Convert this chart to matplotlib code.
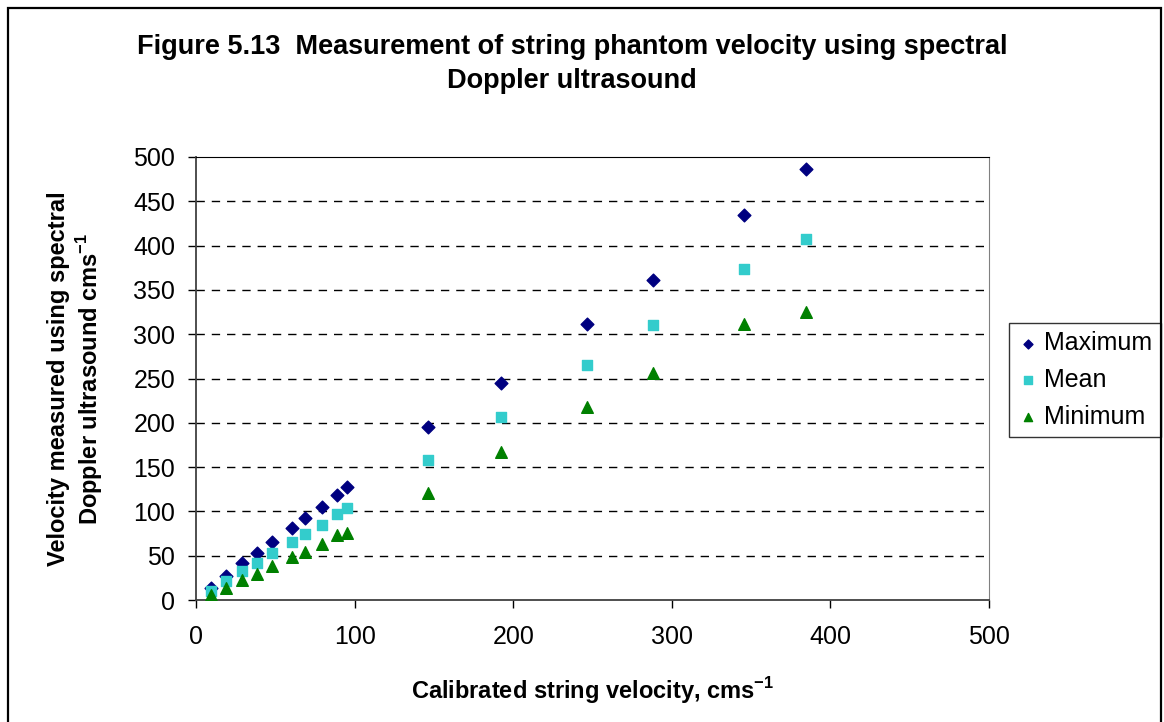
import matplotlib
matplotlib.use('Agg')
import matplotlib.pyplot as plt
from matplotlib.patches import Rectangle

plt.rcParams['font.family'] = ['Liberation Sans', 'DejaVu Sans']
plt.rcParams['mathtext.fontset'] = 'custom'
plt.rcParams['mathtext.rm'] = 'Liberation Sans'
plt.rcParams['mathtext.bf'] = 'Liberation Sans:bold'

# calibrated string velocity (cm/s)
velocity = [9.3, 18.7, 28.8, 38.3, 47.7, 60.3, 68.7, 79.3, 88.8, 95.1,
            146.3, 192.1, 246.7, 288.3, 345.7, 384.4]
maximum = [14, 27, 42, 53, 66, 81, 92, 105, 118, 128, 195, 245, 311, 361, 435, 487]
mean = [10, 22, 33, 42, 53, 65, 74, 85, 97, 104, 158, 207, 265, 310, 374, 407]
minimum = [6, 13, 23, 29, 38, 48, 54, 63, 73, 76, 121, 167, 218, 256, 312, 325]

x_ticks = [0, 100, 200, 300, 400, 500]
y_ticks = [0, 50, 100, 150, 200, 250, 300, 350, 400, 450, 500]

W, H = 1164, 722
fig = plt.figure(figsize=(W / 100, H / 100), dpi=100)
fig.patches.append(Rectangle((8 / W, -0.1), (1161 - 8) / W, 1.1 - 8 / H,
                             transform=fig.transFigure, fill=False,
                             edgecolor='black', linewidth=1.6))

ax = fig.add_axes([196 / W, 1 - 600 / H, (989 - 196) / W, (600 - 157) / H])
ax.scatter(velocity, maximum, marker='D', s=42, color='#000080', label='Maximum', zorder=3)
ax.scatter(velocity, mean, marker='s', s=55, color='#33CCCC', label='Mean', zorder=3)
ax.scatter(velocity, minimum, marker='^', s=70, color='#008000', label='Minimum', zorder=3)

ax.set_xlim(0, 500)
ax.set_ylim(0, 500)
ax.set_xticks(x_ticks)
ax.set_yticks(y_ticks)
ax.tick_params(labelsize=18, length=6, direction='out', width=1)
ax.tick_params(axis='x', pad=12)
ax.tick_params(axis='y', pad=9)
for y in y_ticks[1:-1]:
    ax.axhline(y, color='black', linestyle=(0, (6, 5)), linewidth=1, zorder=1)
for s in ['left', 'bottom']:
    ax.spines[s].set_color('#404040')
    ax.spines[s].set_linewidth(1.3)
ax.spines['top'].set_color('black')
ax.spines['right'].set_color('#808080')

ax.set_xlabel(r'Calibrated string velocity, cms$^{\mathbf{-1}}$',
              fontsize=17, fontweight='bold', labelpad=19)
ax.set_ylabel('Velocity measured using spectral\n' + r'Doppler ultrasound cms$^{\mathbf{-1}}$',
              fontsize=17, fontweight='bold', labelpad=20, linespacing=1.2)

fig.text(572 / W, 1 - 64 / H,
         'Figure 5.13  Measurement of string phantom velocity using spectral\nDoppler ultrasound',
         ha='center', va='center', fontsize=19.5, fontweight='bold', linespacing=1.42)

leg = ax.legend(loc='center left', bbox_to_anchor=(1009 / W, 1 - 380 / H),
                bbox_transform=fig.transFigure, fontsize=18, frameon=True,
                fancybox=False, edgecolor='black', handletextpad=0.25,
                borderpad=0.35, labelspacing=0.5, markerscale=0.7, handlelength=0.8,
                borderaxespad=0)
leg.get_frame().set_linewidth(1)

fig.savefig('out.png', dpi=100)
